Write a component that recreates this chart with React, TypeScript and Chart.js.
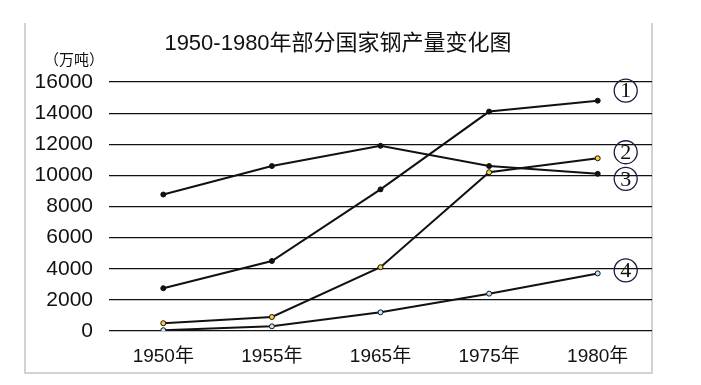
import React, { useEffect, useRef } from "react";
import { Chart, registerables } from "chart.js";

Chart.register(...registerables);

const categories = ["1950年", "1955年", "1965年", "1975年", "1980年"];
const series1 = [2750, 4500, 9100, 14100, 14800];
const series2 = [500, 900, 4100, 10200, 11100];
const series3 = [8770, 10600, 11900, 10600, 10100];
const series4 = [50, 300, 1200, 2400, 3700];
const seriesMarks = ["1", "2", "3", "4"];
const yTicks = [0, 2000, 4000, 6000, 8000, 10000, 12000, 14000, 16000];
const titleText = "1950-1980年部分国家钢产量变化图";
const unitText = "（万吨）";

const FONT = '"Liberation Sans", Arial, "Noto Sans CJK SC", sans-serif';
const CJK = '"Liberation Sans", "Noto Sans CJK SC", sans-serif';

export default function App() {
  const ref = useRef<HTMLCanvasElement | null>(null);
  useEffect(() => {
    if (!ref.current) return;
    const markOffsets = [-10, -6, 5, -3];
    const overlay = {
      id: "overlay",
      beforeDraw(chart: any) {
        const ctx = chart.ctx;
        ctx.save();
        ctx.fillStyle = "#ffffff";
        ctx.fillRect(0, 0, chart.width, chart.height);
        ctx.strokeStyle = "#c4c4c4";
        ctx.lineWidth = 1.5;
        ctx.beginPath();
        ctx.moveTo(25, 23);
        ctx.lineTo(25, 373);
        ctx.lineTo(652, 373);
        ctx.lineTo(652, 23);
        ctx.stroke();
        ctx.restore();
      },
      afterDraw(chart: any) {
        const ctx = chart.ctx;
        ctx.save();
        ctx.fillStyle = "#111";
        ctx.font = "22px " + CJK;
        ctx.textAlign = "center";
        ctx.textBaseline = "middle";
        ctx.fillText(titleText, 338, 44);
        ctx.font = "15px " + CJK;
        ctx.textAlign = "left";
        ctx.fillText(unitText, 44, 61);
        const xs = chart.scales.x;
        const ys = chart.scales.y;
        chart.data.datasets.forEach((ds: any, i: number) => {
          const last = ds.data[ds.data.length - 1];
          const px = xs.getPixelForValue(ds.data.length - 1) + 28;
          const py = ys.getPixelForValue(last) + markOffsets[i];
          ctx.beginPath();
          ctx.strokeStyle = "#1a1a40";
          ctx.lineWidth = 1.3;
          ctx.arc(px, py, 11.5, 0, Math.PI * 2);
          ctx.stroke();
          ctx.fillStyle = "#111";
          ctx.font = '22px "Liberation Serif", serif';
          ctx.textAlign = "center";
          ctx.textBaseline = "middle";
          ctx.fillText(seriesMarks[i], px, py + 1);
        });
        ctx.restore();
      },
    };
    const mk = (data: number[], fill: string, r: number) => ({
      data,
      borderColor: "#111",
      borderWidth: 2,
      pointRadius: r,
      pointBackgroundColor: fill,
      pointBorderColor: "#111",
      pointBorderWidth: 1,
      tension: 0,
    });
    const chart = new Chart(ref.current, {
      type: "line",
      data: {
        labels: categories,
        datasets: [
          mk(series1, "#111", 2.5),
          mk(series2, "#ffd23c", 2.5),
          mk(series3, "#111", 2.5),
          mk(series4, "#bfe4ff", 2.5),
        ],
      },
      options: {
        animation: false,
        responsive: false,
        layout: { padding: { left: 0, right: 49, top: 82, bottom: 0 } },
        plugins: { legend: { display: false }, title: { display: false }, tooltip: { enabled: false } },
        scales: {
          x: {
            offset: true,
            grid: { display: false, drawTicks: false },
            border: { display: false },
            ticks: { color: "#111", font: { size: 19, family: CJK }, padding: 14 },
            afterFit(s: any) { s.height = 54; },
          },
          y: {
            min: 0,
            max: 16000,
            afterBuildTicks(s: any) { s.ticks = yTicks.map((v) => ({ value: v })); },
            grid: { color: "#111", lineWidth: 1.2, drawTicks: false },
            border: { display: false },
            ticks: {
              color: "#111",
              font: { size: 21, family: FONT },
              padding: 16,
              callback: (v: any) => String(v),
            },
            afterFit(s: any) { s.width = 109; },
          },
        },
      },
      plugins: [overlay],
    });
    return () => chart.destroy();
  }, []);
  return (
    <div style={{ position: "fixed", left: 0, top: 0, width: 701, height: 385, background: "#fff" }}>
      <canvas ref={ref} width={701} height={385} style={{ width: 701, height: 385 }} />
    </div>
  );
}
